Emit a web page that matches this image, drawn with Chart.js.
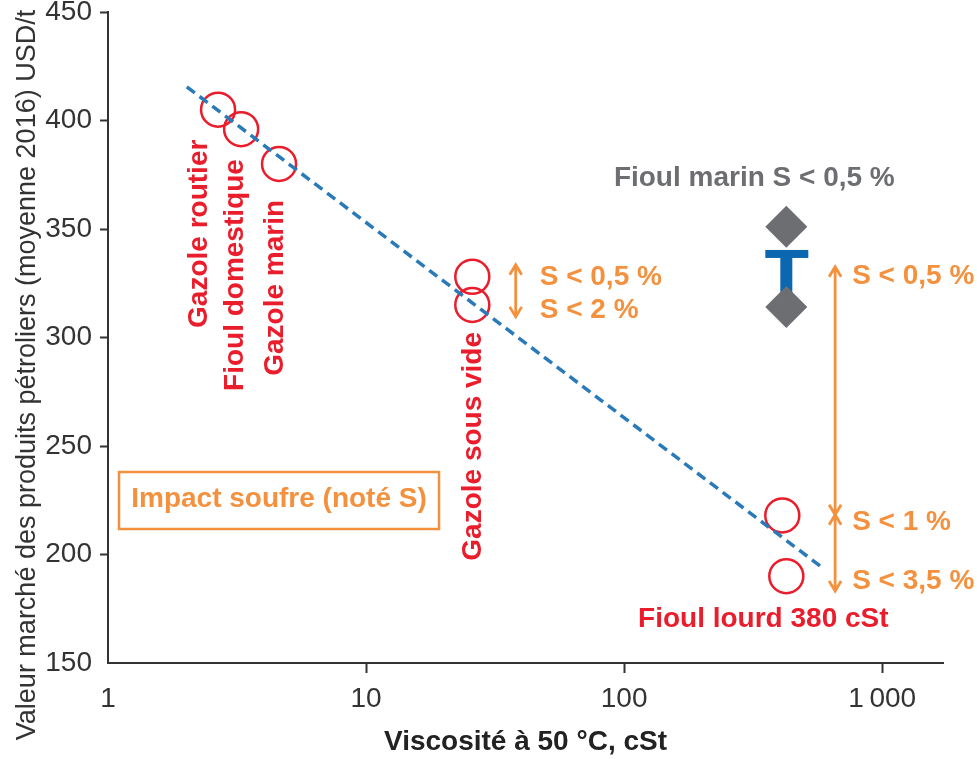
<!DOCTYPE html>
<html lang="fr">
<head>
<meta charset="utf-8">
<title>Valeur marché des produits pétroliers</title>
<script src="https://cdn.jsdelivr.net/npm/chart.js@4.4.1/dist/chart.umd.min.js"></script>
<style>
  html, body { margin: 0; padding: 0; background: #fff; }
  #wrap { width: 977px; height: 759px; position: relative; }
</style>
</head>
<body>
<div id="wrap"><canvas id="chart"></canvas></div>
<script>
// produits (cercles rouges) : viscosité à 50 °C (cSt) et valeur (USD/t)
const productNames = ["Gazole routier", "Fioul domestique", "Gazole marin",
    "Gazole sous vide S < 0,5 %", "Gazole sous vide S < 2 %",
    "Fioul lourd 380 cSt S < 1 %", "Fioul lourd 380 cSt S < 3,5 %"];
const productVisc = [2.67, 3.28, 4.6, 25.8, 25.8, 410, 425];
const productPrice = [405, 396, 380, 328, 315, 218, 190];

// fioul marin S < 0,5 % (losanges gris) et sa fourchette (barre bleue)
const marineVisc = [425, 425];
const marinePrice = [351, 314];
const marineRangeTop = 338.5;

// tendance (pointillés bleus)
const trendVisc = [2.02, 585];
const trendPrice = [415.5, 194];

// flèches « impact soufre »
const vgoArrowVisc = 38;
const vgoArrowPrice = [333.5, 309.5];
const hfoArrowVisc = 657;
const hfoArrowPrice = [332.6, 218.3, 183.2];

const xTicks = [1, 10, 100, 1000];
const xTickLabels = ["1", "10", "100", "1\u2009000"];
const yTicks = [150, 200, 250, 300, 350, 400, 450];

const RED = "#ea1d2c";
const ORANGE = "#f4913f";
const GREY = "#6d6e71";
const BLUE = "#0b68b0";
const AXIS = "#333";
const FONT = "'Liberation Sans', Arial, sans-serif";

const arrow = (ctx, x, y1, y2) => {
    ctx.beginPath();
    ctx.moveTo(x, y1);
    ctx.lineTo(x, y2);
    // pointes aux deux bouts
    [[y1, y1 < y2 ? 1 : -1], [y2, y2 < y1 ? 1 : -1]].forEach(([y, dir]) => {
        ctx.moveTo(x - 6, y + dir * 10);
        ctx.lineTo(x, y);
        ctx.lineTo(x + 6, y + dir * 10);
    });
    ctx.stroke();
};

const annotations = {
    id: "annotations",
    beforeDatasetsDraw(chart) {
        const { ctx, scales: { x, y } } = chart;
        ctx.save();
        // barre bleue (fourchette fioul marin)
        const bx = x.getPixelForValue(marineVisc[0]);
        const top = y.getPixelForValue(marineRangeTop);
        const bottom = y.getPixelForValue(marinePrice[1]);
        ctx.fillStyle = BLUE;
        ctx.fillRect(bx - 21, top - 4, 43, 8);
        ctx.fillRect(bx - 6, top, 12, bottom - top);

        ctx.strokeStyle = ORANGE;
        ctx.lineWidth = 2.8;
        const ax1 = x.getPixelForValue(vgoArrowVisc);
        arrow(ctx, ax1, y.getPixelForValue(vgoArrowPrice[0]), y.getPixelForValue(vgoArrowPrice[1]));
        const ax2 = x.getPixelForValue(hfoArrowVisc);
        arrow(ctx, ax2, y.getPixelForValue(hfoArrowPrice[0]), y.getPixelForValue(hfoArrowPrice[1]));
        arrow(ctx, ax2, y.getPixelForValue(hfoArrowPrice[1]), y.getPixelForValue(hfoArrowPrice[2]));
        ctx.restore();
    },
    afterDraw(chart) {
        const { ctx, chartArea, scales: { x, y } } = chart;
        const px = i => x.getPixelForValue(productVisc[i]);
        const py = i => y.getPixelForValue(productPrice[i]);
        ctx.save();
        ctx.textBaseline = "middle";

        // titre de l'axe vertical
        ctx.save();
        ctx.translate(28, 375);
        ctx.rotate(-Math.PI / 2);
        ctx.fillStyle = "#333";
        ctx.font = "27px " + FONT;
        ctx.textAlign = "center";
        ctx.fillText("Valeur marché des produits pétroliers (moyenne 2016) USD/t", 0, 0);
        ctx.restore();

        ctx.font = "bold 28px " + FONT;

        // noms verticaux des produits
        ctx.fillStyle = RED;
        [[0, "Gazole routier", -19, 30], [1, "Fioul domestique", -6, 30],
         [2, "Gazole marin", -4, 36], [4, "Gazole sous vide", 1, 27]].forEach(([i, txt, dx, dy]) => {
            ctx.save();
            ctx.translate(px(i) + dx, py(i) + dy);
            ctx.rotate(-Math.PI / 2);
            ctx.textAlign = "right";
            ctx.fillText(txt, 0, 0);
            ctx.restore();
        });
        ctx.textAlign = "center";
        ctx.fillText("Fioul lourd 380 cSt", px(6) - 23, py(6) + 43);

        ctx.fillStyle = GREY;
        ctx.fillText("Fioul marin S < 0,5 %", x.getPixelForValue(marineVisc[0]) - 32,
            y.getPixelForValue(marinePrice[0]) - 49);

        // libellés soufre
        ctx.fillStyle = ORANGE;
        ctx.textAlign = "left";
        const lx1 = x.getPixelForValue(vgoArrowVisc) + 24;
        ctx.fillText("S < 0,5 %", lx1, py(3) + 1);
        ctx.fillText("S < 2 %", lx1, py(4) + 5);
        const lx2 = x.getPixelForValue(hfoArrowVisc) + 17;
        ctx.fillText("S < 0,5 %", lx2, y.getPixelForValue(hfoArrowPrice[0]) + 10);
        ctx.fillText("S < 1 %", lx2, y.getPixelForValue(hfoArrowPrice[1]) + 7);
        ctx.fillText("S < 3,5 %", lx2, y.getPixelForValue(hfoArrowPrice[2]) - 10);

        // encadré
        const bx = chartArea.left + 11, by = chartArea.bottom - 191;
        ctx.strokeStyle = ORANGE;
        ctx.lineWidth = 2.5;
        ctx.strokeRect(bx, by, 320, 57);
        ctx.textAlign = "center";
        ctx.fillText("Impact soufre (noté S)", bx + 160, by + 27);
        ctx.restore();
    }
};

new Chart(document.getElementById("chart"), {
    type: "scatter",
    data: {
        datasets: [{
            label: "Tendance",
            data: trendVisc.map((v, i) => ({ x: v, y: trendPrice[i] })),
            showLine: true,
            borderColor: "#2a7ab9",
            borderWidth: 3.5,
            borderDash: [10, 6],
            pointRadius: 0,
            order: 0
        }, {
            label: "Produits",
            data: productVisc.map((v, i) => ({ x: v, y: productPrice[i] })),
            pointStyle: "circle",
            pointRadius: 17,
            borderColor: RED,
            borderWidth: 2.5,
            backgroundColor: "rgba(0,0,0,0)",
            order: 1
        }, {
            label: "Fioul marin S < 0,5 %",
            data: marineVisc.map((v, i) => ({ x: v, y: marinePrice[i] })),
            pointStyle: "rectRot",
            pointRadius: 21,
            borderWidth: 0,
            backgroundColor: GREY,
            order: 1
        }]
    },
    plugins: [annotations],
    options: {
        responsive: true,
        maintainAspectRatio: false,
        animation: false,
        events: [],
        layout: { autoPadding: false, padding: { top: 12, right: 34, bottom: 0, left: 0 } },
        plugins: { legend: { display: false }, tooltip: { enabled: false } },
        scales: {
            x: {
                type: "logarithmic",
                min: 1,
                max: 1720,
                afterBuildTicks: scale => { scale.ticks = xTicks.map(v => ({ value: v })); },
                afterFit: scale => { scale.height = 96; },
                ticks: {
                    autoSkip: false,
                    maxRotation: 0,
                    padding: 9,
                    color: "#333",
                    font: { family: FONT, size: 28 },
                    callback: v => xTickLabels[xTicks.indexOf(v)]
                },
                grid: {
                    drawOnChartArea: false,
                    tickLength: 10,
                    tickWidth: 2,
                    tickColor: c => (c.tick && c.tick.value === 1 ? "rgba(0,0,0,0)" : AXIS)
                },
                border: { color: AXIS, width: 2 },
                title: {
                    display: true,
                    text: "Viscosité à 50 °C, cSt",
                    color: "#222",
                    font: { family: FONT, size: 28, weight: "bold" },
                    padding: { top: 2, bottom: 0 }
                }
            },
            y: {
                min: 150,
                max: 450,
                afterBuildTicks: scale => { scale.ticks = yTicks.map(v => ({ value: v })); },
                afterFit: scale => { scale.width = 108; scale.paddingTop = 0; },
                ticks: {
                    padding: 8,
                    color: "#333",
                    font: { family: FONT, size: 28, lineHeight: 0.5 }
                },
                grid: {
                    drawOnChartArea: false,
                    tickLength: 8,
                    tickWidth: 2,
                    tickColor: c => (c.tick && c.tick.value === 150 ? "rgba(0,0,0,0)" : AXIS)
                },
                border: { color: AXIS, width: 2 }
            }
        }
    }
});
</script>
</body>
</html>
